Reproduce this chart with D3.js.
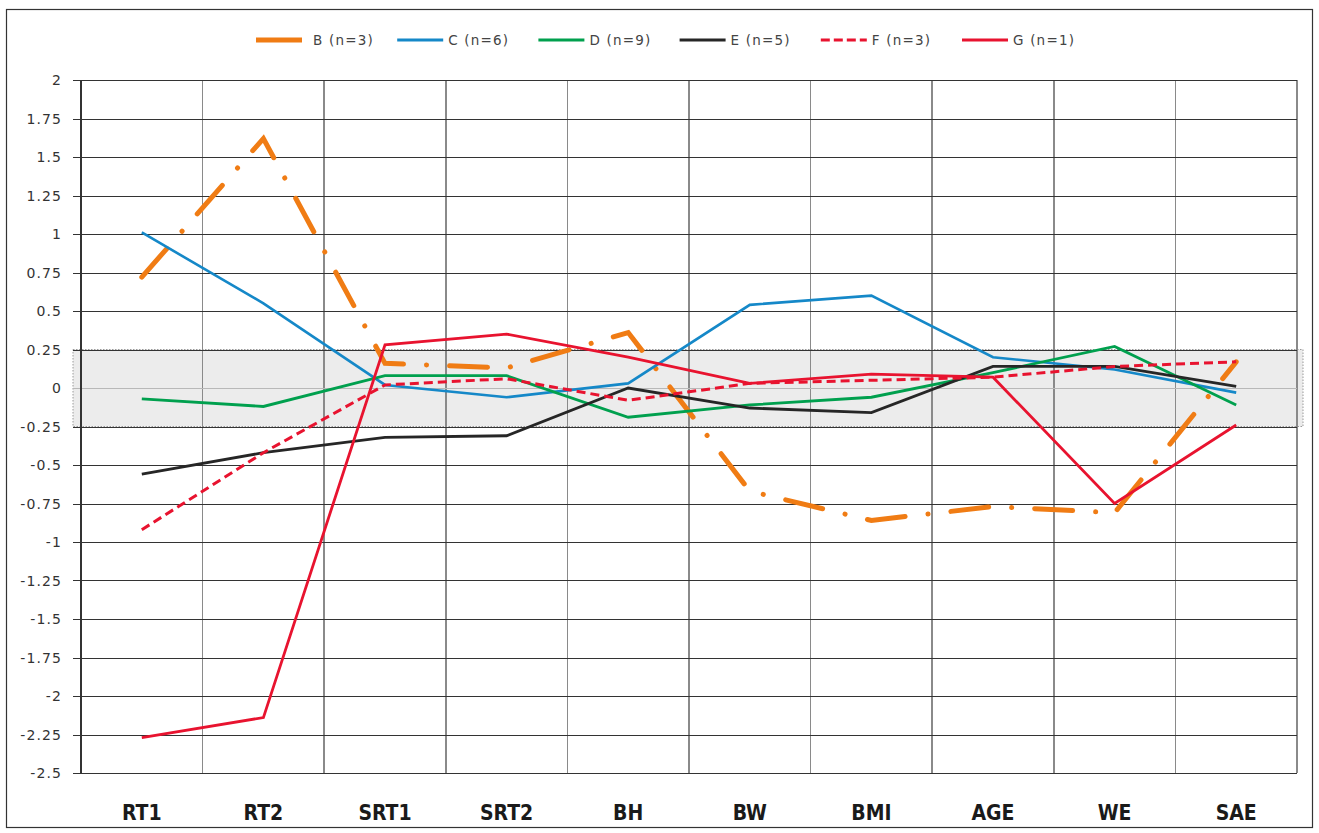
<!DOCTYPE html>
<meta charset="utf-8">
<script src="https://d3js.org/d3.v7.min.js"></script>
<style>
body { margin: 0; background: #fff; }
.grid-h line { stroke: #333; stroke-width: 1.8; shape-rendering: crispEdges; }
.grid-v line { stroke: #8a8a8a; stroke-width: 1.6; shape-rendering: crispEdges; }
.ylab { font-family: "DejaVu Sans", sans-serif; font-size: 14px; fill: #333; letter-spacing: 1.1px; }
.xlab { font-family: "Liberation Sans Narrow", "DejaVu Sans Condensed", sans-serif; font-stretch: condensed; font-weight: bold; font-size: 21px; fill: #1a1a1a; }
.legtext { font-family: "DejaVu Sans", sans-serif; font-size: 13.5px; fill: #444; letter-spacing: 1.2px; }
</style>
<body>
<div id="chart"></div>
<script>
// categories and values
var categories = ["RT1", "RT2", "SRT1", "SRT2", "BH", "BW", "BMI", "AGE", "WE", "SAE"];
var seriesNames = ["B (n=3)", "C (n=6)", "D (n=9)", "E (n=5)", "F (n=3)", "G (n=1)"];
var valuesB = [0.72, 1.62, 0.16, 0.13, 0.36, -0.67, -0.86, -0.77, -0.81, 0.17];
var valuesC = [1.01, 0.55, 0.02, -0.06, 0.03, 0.54, 0.60, 0.20, 0.12, -0.03];
var valuesD = [-0.07, -0.12, 0.08, 0.08, -0.19, -0.11, -0.06, 0.10, 0.27, -0.11];
var valuesE = [-0.56, -0.42, -0.32, -0.31, 0.00, -0.13, -0.16, 0.14, 0.14, 0.01];
var valuesF = [-0.92, -0.42, 0.02, 0.06, -0.08, 0.03, 0.05, 0.07, 0.14, 0.17];
var valuesG = [-2.27, -2.14, 0.28, 0.35, 0.20, 0.03, 0.09, 0.07, -0.75, -0.24];
var yTicks = [2, 1.75, 1.5, 1.25, 1, 0.75, 0.5, 0.25, 0, -0.25, -0.5, -0.75, -1, -1.25, -1.5, -1.75, -2, -2.25, -2.5];
var bandRange = [-0.25, 0.25];

// styles per series
var styles = [
    {color: "#f07c14", width: 5, dash: "38,23,0.1,23", cap: "round"},
    {color: "#1588c8", width: 2.6, dash: null, cap: "butt"},
    {color: "#00a04e", width: 2.8, dash: null, cap: "butt"},
    {color: "#262626", width: 2.8, dash: null, cap: "butt"},
    {color: "#e8132f", width: 3, dash: "9,5", cap: "butt"},
    {color: "#e8132f", width: 2.8, dash: null, cap: "butt"}
];
var allValues = [valuesB, valuesC, valuesD, valuesE, valuesF, valuesG];

var W = 1319, H = 833;
var margin = {top: 80, right: 22, bottom: 60, left: 81};

var svg = d3.select("#chart").append("svg")
    .attr("width", W)
    .attr("height", H);

// outer frame
svg.append("rect")
    .attr("x", 6.5).attr("y", 9.5)
    .attr("width", 1306).attr("height", 818)
    .attr("fill", "none")
    .attr("stroke", "#333")
    .attr("stroke-width", 1.2);

var xScale = d3.scaleBand()
    .domain(categories)
    .range([margin.left, W - margin.right])
    .padding(0);
var yScale = d3.scaleLinear()
    .domain([-2.5, 2])
    .range([H - margin.bottom, margin.top]);

// shaded band round zero
svg.append("rect")
    .attr("x", margin.left - 8)
    .attr("y", yScale(bandRange[1]))
    .attr("width", (W - margin.right) - margin.left + 14)
    .attr("height", yScale(bandRange[0]) - yScale(bandRange[1]))
    .attr("fill", "#ececec")
    .attr("stroke", "#9a9a9a")
    .attr("stroke-width", 1)
    .attr("stroke-dasharray", "1.5,1.5");

// vertical grid lines
svg.append("g")
    .attr("class", "grid-v")
    .selectAll("line")
    .data(categories.slice(1).concat(["__end"]))
    .enter().append("line")
    .attr("x1", function(d) { return d === "__end" ? W - margin.right : xScale(d); })
    .attr("x2", function(d) { return d === "__end" ? W - margin.right : xScale(d); })
    .attr("y1", margin.top)
    .attr("y2", H - margin.bottom);

// horizontal grid lines
svg.append("g")
    .attr("class", "grid-h")
    .selectAll("line")
    .data(yTicks)
    .enter().append("line")
    .attr("x1", margin.left - 8)
    .attr("x2", W - margin.right)
    .attr("y1", function(d) { return Math.round(yScale(d)) + 0.5; })
    .attr("y2", function(d) { return Math.round(yScale(d)) + 0.5; })
    .style("stroke", function(d) { return d === 0 ? "#b8b8b8" : null; })
    .style("stroke-width", function(d) { return d === 0 ? 1.2 : null; });

// y axis line
svg.append("line")
    .attr("x1", margin.left).attr("x2", margin.left)
    .attr("y1", margin.top).attr("y2", H - margin.bottom)
    .attr("stroke", "#333").attr("stroke-width", 2);

// y tick labels
svg.append("g")
    .selectAll("text")
    .data(yTicks)
    .enter().append("text")
    .attr("class", "ylab")
    .attr("x", 62)
    .attr("y", function(d) { return yScale(d); })
    .attr("dy", "0.36em")
    .attr("text-anchor", "end")
    .text(function(d) { return String(d); });

// x labels
svg.append("g")
    .selectAll("text")
    .data(categories)
    .enter().append("text")
    .attr("class", "xlab")
    .attr("x", function(d) { return xScale(d) + xScale.bandwidth() / 2; })
    .attr("y", 820)
    .attr("text-anchor", "middle")
    .text(function(d) { return d; });

// the series lines
var line = d3.line()
    .x(function(d, i) { return xScale(categories[i]) + xScale.bandwidth() / 2; })
    .y(function(d) { return yScale(d); });

allValues.forEach(function(vals, k) {
    var s = styles[k];
    svg.append("path")
        .datum(vals)
        .attr("d", line)
        .attr("fill", "none")
        .attr("stroke", s.color)
        .attr("stroke-width", s.width)
        .attr("stroke-linejoin", "miter")
        .attr("stroke-linecap", s.cap)
        .attr("stroke-dasharray", s.dash);
});

// legend
var legend = svg.append("g")
    .attr("transform", "translate(256,40)");
var item = legend.selectAll("g")
    .data(seriesNames)
    .enter().append("g")
    .attr("transform", function(d, i) { return "translate(" + (i * 141.2) + ",0)"; });
item.append("line")
    .attr("x1", 0).attr("x2", 46)
    .attr("y1", 0).attr("y2", 0)
    .attr("stroke", function(d, i) { return styles[i].color; })
    .attr("stroke-width", function(d, i) { return i === 0 ? 5 : 3; })
    .attr("stroke-dasharray", function(d, i) { return i === 4 ? "9,4" : null; });
item.append("text")
    .attr("class", "legtext")
    .attr("x", function(d, i) { return i === 0 ? 57 : 51; })
    .attr("y", 0)
    .attr("dy", "0.36em")
    .text(function(d) { return d; });
</script>
</body>
